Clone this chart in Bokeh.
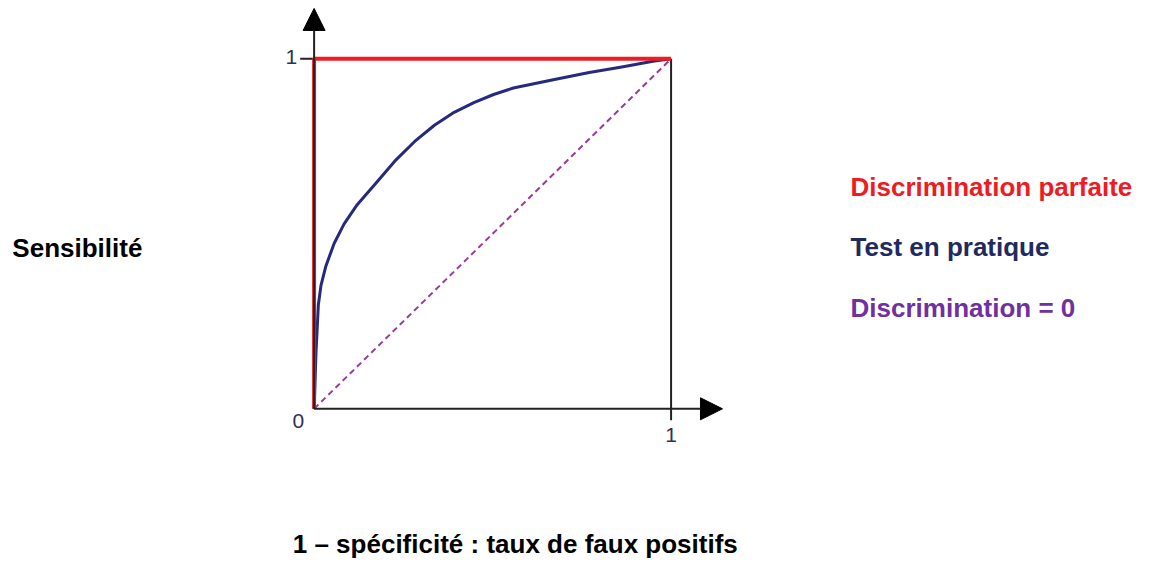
from bokeh.plotting import figure
from bokeh.models import Arrow, NormalHead, Range1d
from bokeh.core.properties import value
from bokeh.embed import file_html
from bokeh.resources import INLINE

# ---- data ----
roc_fpr = [0, 0.0028, 0.0055, 0.0083, 0.0119, 0.0193, 0.0331, 0.0561, 0.0837, 0.1207,
           0.1760, 0.2265, 0.2818, 0.3370, 0.3923, 0.4475, 0.5028, 0.5580, 0.6768,
           0.7707, 0.8619, 0.9530, 1.0]
roc_tpr = [0, 0.0833, 0.1667, 0.2222, 0.2972, 0.3528, 0.4083, 0.4722, 0.5278, 0.5833,
           0.6481, 0.7083, 0.7639, 0.8103, 0.8472, 0.8750, 0.8981, 0.9167, 0.9417,
           0.9611, 0.9769, 0.9936, 1.0]
perfect_x = [0, 0, 1]
perfect_y = [0, 1, 1]
chance_x = [0, 1]
chance_y = [0, 1]
tick_labels = ["0", "1"]
legend_labels = ["Discrimination parfaite", "Test en pratique", "Discrimination = 0"]
y_label = "Sensibilité"
x_label = "1 – spécificité : taux de faux positifs"

W, H = 1138, 559
p = figure(width=W, height=H, output_backend="svg", toolbar_location=None,
           x_range=Range1d(-0.8785, 2.3094), y_range=Range1d(-0.4306, 1.1667),
           min_border=0, outline_line_color=None)
p.axis.visible = False
p.grid.visible = False
p.background_fill_color = "white"
p.border_fill_color = "white"

FONT = value("Liberation Sans")
axis_col = "#222222"

# frame line x=1 (extends as tick below)
p.line([1, 1], [1, -0.033], line_color=axis_col, line_width=2)
# tick at y=1
p.line([-0.039, 0], [1, 1], line_color=axis_col, line_width=2)

# axes with arrows
p.add_layout(Arrow(end=NormalHead(size=22, fill_color="black", line_color="black"),
                   x_start=0, y_start=0, x_end=0, y_end=1.144,
                   line_color=axis_col, line_width=2))
p.add_layout(Arrow(end=NormalHead(size=22, fill_color="black", line_color="black"),
                   x_start=0, y_start=0, x_end=1.144, y_end=0,
                   line_color=axis_col, line_width=2))

# chance diagonal
p.line(chance_x, chance_y, line_color="#9b3a9b", line_width=2, line_dash="6 4")
# practical test curve
p.line(roc_fpr, roc_tpr, line_color="#262a7e", line_width=3, line_join="round")
# perfect discrimination
p.line(perfect_x, perfect_y, line_color="#ee1c25", line_width=4)

# tick labels
tick_col = "#2c3350"
p.text(x=[-0.044], y=[-0.036], text=[tick_labels[0]], text_font=FONT, text_font_size="21px",
       text_align="center", text_baseline="middle", text_color=tick_col)
p.text(x=[-0.064], y=[1.006], text=[tick_labels[1]], text_font=FONT, text_font_size="21px",
       text_align="center", text_baseline="middle", text_color=tick_col)
p.text(x=[1.0], y=[-0.075], text=[tick_labels[1]], text_font=FONT, text_font_size="21px",
       text_align="center", text_baseline="middle", text_color=tick_col)

# axis titles
p.text(x=[-0.8453], y=[0.4583], text=[y_label], text_font=FONT, text_font_size="26px",
       text_font_style="bold", text_align="left", text_baseline="middle", text_color="black")
p.text(x=[0.5635], y=[-0.386], text=[x_label], text_font=FONT, text_font_size="26px",
       text_font_style="bold", text_align="center", text_baseline="middle", text_color="black")

# legend texts
leg_y = [0.6333, 0.4611, 0.2889]
leg_col = ["#ed1c24", "#1f2a5e", "#7030a0"]
for lbl, yy, cc in zip(legend_labels, leg_y, leg_col):
    p.text(x=[1.5028], y=[yy], text=[lbl], text_font=FONT, text_font_size="26px",
           text_font_style="bold", text_align="left", text_baseline="middle", text_color=cc)

open("out.html", "w").write(file_html(p, INLINE))
